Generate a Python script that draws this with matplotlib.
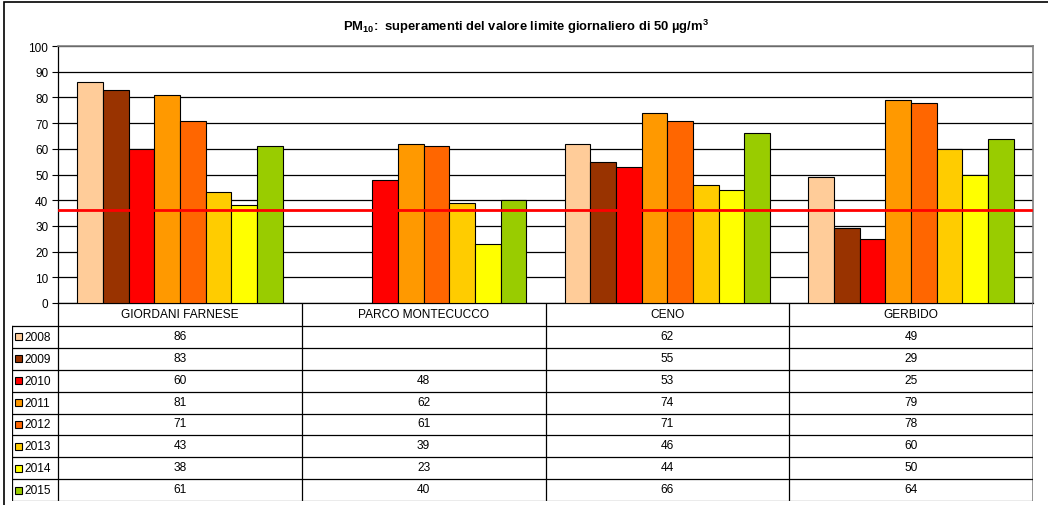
import numpy as np
import matplotlib.pyplot as plt
from matplotlib.patches import Rectangle

plt.rcParams['font.family'] = ['Liberation Sans', 'DejaVu Sans']
plt.rcParams['mathtext.fontset'] = 'custom'
plt.rcParams['mathtext.rm'] = 'Liberation Sans'
plt.rcParams['mathtext.bf'] = 'Liberation Sans:bold'

# stations and yearly exceedance counts
stations = ['GIORDANI FARNESE', 'PARCO MONTECUCCO', 'CENO', 'GERBIDO']
years = ['2008', '2009', '2010', '2011', '2012', '2013', '2014', '2015']
v2008 = [86, None, 62, 49]
v2009 = [83, None, 55, 29]
v2010 = [60, 48, 53, 25]
v2011 = [81, 62, 74, 79]
v2012 = [71, 61, 71, 78]
v2013 = [43, 39, 46, 60]
v2014 = [38, 23, 44, 50]
v2015 = [61, 40, 66, 64]
series = [v2008, v2009, v2010, v2011, v2012, v2013, v2014, v2015]
limit = 36

colors = ['#FFCC99', '#993300', '#FF0000', '#FF9900', '#FF6600', '#FFCC00', '#FFFF00', '#99CC00']

W, H = 1048, 506
fig = plt.figure(figsize=(W / 100, H / 100), dpi=100)

# outer frame
fig.patches.append(Rectangle((4 / W, -0.1), 2, 1 - 3 / H + 0.1, transform=fig.transFigure,
                             fill=False, edgecolor='black', linewidth=1.2))

L, R, T, B = 58, 1033, 47, 304
ax = fig.add_axes([L / W, 1 - B / H, (R - L) / W, (B - T) / H])
n = len(stations)
bw = 1 / 9.5
x = np.arange(n) + 0.5
for j, vals in enumerate(series):
    y = np.array([np.nan if v is None else v for v in vals], dtype=float)
    ax.bar(x + (j - 3.5) * bw, y, width=bw, color=colors[j], edgecolor='black',
           linewidth=0.8, zorder=3)
ax.axhline(limit, xmin=0.001, xmax=0.998, color='#FF0000', linewidth=2, zorder=4)

ax.set_xlim(0, n)
ax.set_ylim(0, 100)
ax.set_yticks(range(0, 101, 10))
ax.set_xticks([])
ax.yaxis.grid(True, color='black', linewidth=0.9)
ax.set_axisbelow(True)
ax.tick_params(axis='y', labelsize=8.5, length=4, width=0.8, pad=3)
for s in ['top', 'right']:
    ax.spines[s].set_color('#808080')
    ax.spines[s].set_linewidth(1.2)
ax.spines['left'].set_linewidth(0.9)
ax.spines['bottom'].set_linewidth(0.9)

fig.text(526 / W, 1 - 27 / H,
         r'PM$_\mathbf{10}$:  superamenti del valore limite giornaliero di 50 µg/m$^\mathbf{3}$',
         ha='center', va='center', fontsize=9.4, fontweight='bold')

# data table below the chart
TL, TB = 12, 502
tax = fig.add_axes([TL / W, 1 - TB / H, (R - TL) / W, (TB - B) / H])
tax.set_xlim(TL, R)
tax.set_ylim(TB, B)
tax.axis('off')
hdr = 327
rh = (TB - hdr) / len(years)
colw = (R - L) / n
lc = 'black'
tax.plot([L, L], [B, TB], color=lc, lw=0.9)
tax.plot([TL, TL], [hdr, TB], color=lc, lw=0.9)
tax.plot([R, R], [B, TB], color='#808080', lw=1.2)
for k in range(1, n):
    tax.plot([L + k * colw] * 2, [B, TB], color=lc, lw=0.9)
for i in range(len(years) + 1):
    yy = hdr + i * rh
    tax.plot([TL, R], [yy, yy], color='#606060' if i == len(years) else lc, lw=0.9)
for k, s in enumerate(stations):
    tax.text(L + (k + 0.5) * colw, (B + hdr) / 2, s, ha='center', va='center', fontsize=8.6)
for i, yr in enumerate(years):
    yc = hdr + (i + 0.5) * rh
    tax.add_patch(Rectangle((15, yc - 3.5), 7, 7, facecolor=colors[i], edgecolor='black', lw=0.8))
    tax.text(24, yc, yr, ha='left', va='center', fontsize=8.6)
    for k in range(n):
        v = series[i][k]
        if v is not None:
            tax.text(L + (k + 0.5) * colw, yc - 1, str(v), ha='center', va='center', fontsize=8.6)

fig.savefig('out.png', dpi=100)
